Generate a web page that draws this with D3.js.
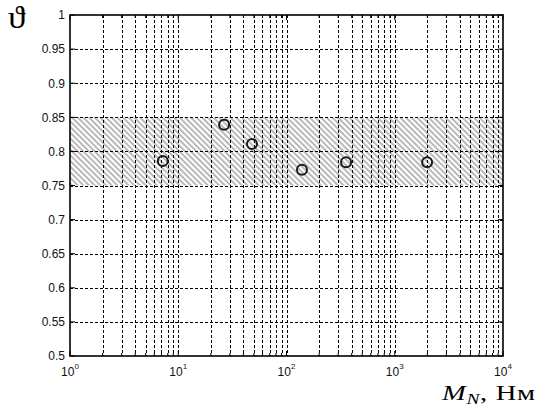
<!DOCTYPE html>
<html>
<head>
<meta charset="utf-8">
<script src="https://cdn.jsdelivr.net/npm/d3@7"></script>
<style>
  html, body { margin: 0; padding: 0; background: #fff; }
  svg { display: block; }
  .serif { font-family: "Liberation Serif", "Times New Roman", "DejaVu Serif", serif; }
  .sans { font-family: "Liberation Sans", Arial, sans-serif; }
</style>
</head>
<body>
<svg id="chart" width="544" height="417"></svg>
<script>
// measured points: torque M_N (N·m) vs efficiency ϑ
const momentN = [7.2, 26.5, 48, 139, 355, 1990];
const theta = [0.786, 0.839, 0.811, 0.773, 0.784, 0.784];
const bandRange = [0.75, 0.85];
const xDomain = [1, 10000];
const yDomain = [0.5, 1];
const xMajorTicks = [1, 10, 100, 1000, 10000];
const yTicks = [0.5, 0.55, 0.6, 0.65, 0.7, 0.75, 0.8, 0.85, 0.9, 0.95, 1];

const width = 544;
const height = 417;
const margin = { top: 15, right: 41, bottom: 61, left: 70 };
const innerW = width - margin.left - margin.right;
const innerH = height - margin.top - margin.bottom;

const svg = d3.select("#chart");

const defs = svg.append("defs");
defs.append("pattern")
  .attr("id", "hatch")
  .attr("patternUnits", "userSpaceOnUse")
  .attr("width", 4)
  .attr("height", 4)
  .attr("patternTransform", "rotate(-45)")
  .append("line")
  .attr("x1", 1).attr("y1", 0)
  .attr("x2", 1).attr("y2", 4)
  .attr("stroke", "#a8a8a8")
  .attr("stroke-width", 1.6);

const root = svg.append("g").attr("transform", `translate(${margin.left},${margin.top})`);

const x = d3.scaleLog().domain(xDomain).range([0, innerW]);
const y = d3.scaleLinear().domain(yDomain).range([innerH, 0]);

const xAll = x.ticks(); // 1..9 in every decade
const xMinor = xAll.filter((v) => !xMajorTicks.includes(v));

// hatched tolerance band
root.append("rect")
  .attr("x", 0)
  .attr("y", y(bandRange[1]))
  .attr("width", innerW)
  .attr("height", y(bandRange[0]) - y(bandRange[1]))
  .attr("fill", "url(#hatch)");

// grid
const grid = root.append("g").attr("stroke", "#000").attr("stroke-width", 1)
  .attr("stroke-dasharray", "3,2").attr("shape-rendering", "crispEdges");
grid.selectAll("line.vx")
  .data(xAll.filter((v) => v > xDomain[0] && v < xDomain[1]))
  .join("line")
  .attr("class", "vx")
  .attr("x1", (d) => Math.round(x(d)) + 0.5).attr("x2", (d) => Math.round(x(d)) + 0.5)
  .attr("y1", 0).attr("y2", innerH);
grid.selectAll("line.hy")
  .data(yTicks.slice(1, -1))
  .join("line")
  .attr("class", "hy")
  .attr("x1", 0).attr("x2", innerW)
  .attr("y1", (d) => Math.round(y(d)) + 0.5).attr("y2", (d) => Math.round(y(d)) + 0.5);

// inward ticks on all four sides
const ticks = root.append("g").attr("stroke", "#000").attr("stroke-width", 1);
const tickSets = [
  { vals: xMajorTicks, len: 5 },
  { vals: xMinor, len: 3 },
];
tickSets.forEach((t) => {
  ticks.selectAll(null).data(t.vals).join("line")
    .attr("x1", (d) => x(d)).attr("x2", (d) => x(d))
    .attr("y1", innerH).attr("y2", innerH - t.len);
  ticks.selectAll(null).data(t.vals).join("line")
    .attr("x1", (d) => x(d)).attr("x2", (d) => x(d))
    .attr("y1", 0).attr("y2", t.len);
});
ticks.selectAll(null).data(yTicks).join("line")
  .attr("x1", 0).attr("x2", 5)
  .attr("y1", (d) => y(d)).attr("y2", (d) => y(d));
ticks.selectAll(null).data(yTicks).join("line")
  .attr("x1", innerW).attr("x2", innerW - 5)
  .attr("y1", (d) => y(d)).attr("y2", (d) => y(d));

// data markers
root.selectAll("circle.pt")
  .data(momentN.map((m, i) => ({ m, t: theta[i] })))
  .join("circle")
  .attr("class", "pt")
  .attr("cx", (d) => x(d.m))
  .attr("cy", (d) => y(d.t))
  .attr("r", 5)
  .attr("fill", "none")
  .attr("stroke", "#1a1a1a")
  .attr("stroke-width", 2);

// axes box
root.append("rect")
  .attr("x", 0).attr("y", 0)
  .attr("width", innerW).attr("height", innerH)
  .attr("fill", "none")
  .attr("stroke", "#000")
  .attr("stroke-width", 1.6);

// y tick labels
root.append("g").selectAll("text")
  .data(yTicks)
  .join("text")
  .attr("class", "sans")
  .attr("x", -5)
  .attr("y", (d) => y(d))
  .attr("dy", "0.36em")
  .attr("text-anchor", "end")
  .attr("font-size", 12)
  .attr("fill", "#111")
  .text((d) => String(+d.toFixed(2)));

// x tick labels 10^n
const xl = root.append("g").selectAll("text")
  .data(xMajorTicks)
  .join("text")
  .attr("class", "sans")
  .attr("x", (d) => x(d))
  .attr("y", innerH + 20)
  .attr("text-anchor", "middle")
  .attr("font-size", 12)
  .attr("fill", "#111");
xl.append("tspan").text("10");
xl.append("tspan")
  .attr("dy", -7)
  .attr("font-size", 8)
  .text((d) => Math.round(Math.log10(d)));

// axis titles
svg.append("text")
  .attr("class", "serif")
  .attr("transform", "translate(8,28) scale(1.1,1)")
  .attr("font-size", 32)
  .attr("fill", "#000")
  .text("ϑ");

const xt = svg.append("text")
  .attr("class", "serif")
  .attr("transform", "translate(442,400) scale(1.3,1)")
  .attr("font-size", 22)
  .attr("letter-spacing", 0.5)
  .attr("fill", "#000");
xt.append("tspan").attr("font-style", "italic").text("M");
xt.append("tspan").attr("font-style", "italic").attr("font-size", 15).attr("dy", 4).text("N");
xt.append("tspan").attr("dy", -4).text(", Нм");
</script>
</body>
</html>
